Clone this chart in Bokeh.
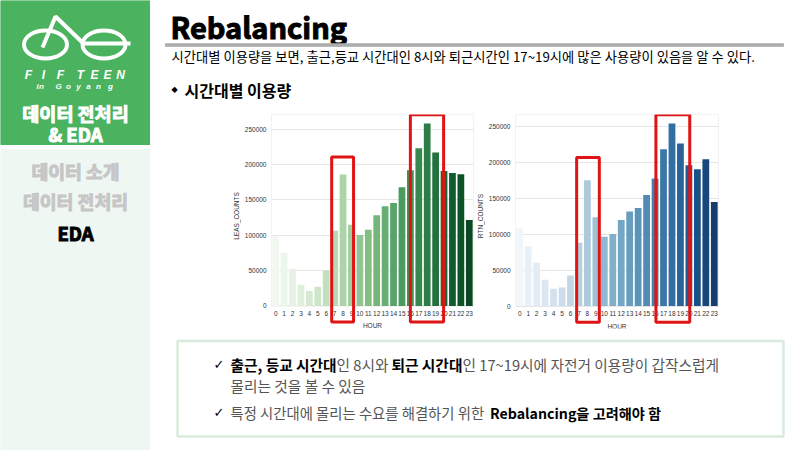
import colorsys
import math

from bokeh.core.properties import value
from bokeh.embed import file_html
from bokeh.layouts import column, row
from bokeh.models import BoxAnnotation, FixedTicker, Spacer
from bokeh.palettes import Blues256, Greens256
from bokeh.plotting import figure
from bokeh.resources import INLINE

HOURS = list(range(24))
LEAS_COUNTS = [99300, 75300, 52700, 30100, 21200, 27300, 50400, 106400, 186000, 114900, 100300, 107800,
               128500, 141200, 145500, 168000, 192000, 223000, 258000, 217000, 191000, 188300, 186400, 121500]
RTN_COUNTS = [108500, 83500, 60300, 36600, 24100, 26000, 42700, 88100, 175300, 123800, 96500, 100200,
              119700, 131700, 136400, 154500, 177600, 218500, 254000, 226300, 196200, 190600, 204500, 144800]
Y_TICKS = [0, 50000, 100000, 150000, 200000, 250000]

KR = "Noto Sans CJK KR"
GREEN = "#4bb25f"
RED = "#e01414"
GRID = "#e6e6e6"
TICK_TEXT = "#333333"
GREY_TEXT = "#555555"


def desat(c, s=0.75):
    # same muting seaborn does on bar colours
    r, g, b = [int(c[i:i + 2], 16) / 255 for i in (1, 3, 5)]
    h, l, sat = colorsys.rgb_to_hls(r, g, b)
    r, g, b = colorsys.hls_to_rgb(h, l, sat * s)
    return "#%02x%02x%02x" % (round(r * 255), round(g * 255), round(b * 255))


def seq_colors(pal, n):
    # bokeh palettes run dark to light, seaborn drops both ends of the map
    light_first = list(reversed(pal))
    return [desat(light_first[int(255 * (i + 1) / (n + 1))]) for i in range(n)]


def panel(x0, x1, y0, y1):
    # panel whose data coordinates are the pixels of the slide
    f = figure(width=x1 - x0, height=y1 - y0, x_range=(x0, x1), y_range=(y1, y0),
               output_backend="svg", toolbar_location=None, min_border=0)
    f.axis.visible = False
    f.grid.visible = False
    f.outline_line_color = None
    return f


def label(f, x, y, txt, size, color="#000000", style="normal", align="left", font=KR, outline=None):
    f.text([x], [y], text=[txt], text_font=value(font), text_font_size=size, text_color=color,
           text_font_style=style, text_align=align, text_baseline="middle", text_outline_color=outline)


def ylabel_panel(x0, x1, txt):
    # axis label would centre on the longer frame and annotations get cut at the frame,
    # so the y label sits in its own strip
    f = panel(x0, x1, 105, 330)
    f.text([x0 + 6], [211.7], text=[txt], angle=math.pi / 2, text_font=value("Liberation Sans"),
           text_font_size="6.5px", text_color=TICK_TEXT, text_align="center", text_baseline="middle")
    return f


def bars(values, palette, y_start, boxes, width, border_left, border_right):
    # the frame runs on below zero so the red boxes can reach under the hour labels,
    # the hour axis is pinned at zero and the visible frame is drawn by hand
    y_end = max(values) * 1.05
    f = figure(width=width, height=225, x_range=(-0.5, 23.5), y_range=(y_start, y_end),
               output_backend="svg", toolbar_location=None,
               min_border_left=border_left, min_border_right=border_right,
               min_border_top=9, min_border_bottom=2)
    f.vbar(x=HOURS, top=values, width=0.8, fill_color=seq_colors(palette, 24), line_color=None)
    f.xgrid.visible = False
    f.ygrid.grid_line_color = GRID
    f.outline_line_color = None
    f.add_layout(BoxAnnotation(left=-0.5, right=23.5, top=y_end, bottom=0, fill_alpha=0,
                               line_color=GRID, line_width=1, line_alpha=1, level="underlay"))
    f.xaxis.ticker = FixedTicker(ticks=HOURS)
    f.xaxis.fixed_location = 0
    f.xaxis.axis_label = "HOUR"
    f.yaxis.ticker = FixedTicker(ticks=Y_TICKS)
    f.yaxis.formatter.use_scientific = False
    for ax in (f.xaxis, f.yaxis):
        ax.axis_line_color = None
        ax.major_tick_line_color = None
        ax.minor_tick_line_color = None
        ax.major_tick_out = 0
        ax.major_tick_in = 0
        ax.major_label_text_font = "Liberation Sans"
        ax.major_label_text_font_size = "6.5px"
        ax.major_label_text_color = TICK_TEXT
        ax.major_label_standoff = 5
    f.xaxis.axis_label_text_font = "Liberation Sans"
    f.xaxis.axis_label_text_font_size = "6.5px"
    f.xaxis.axis_label_text_font_style = "normal"
    f.xaxis.axis_label_text_color = TICK_TEXT
    f.xaxis.axis_label_standoff = 3
    for left, right, top in boxes:
        f.add_layout(BoxAnnotation(left=left, right=right, top=top, bottom=-22600, fill_alpha=0,
                                   line_color=RED, line_width=3, line_alpha=1))
    return f


# left side bar
side = panel(0, 150, 0, 450)
side.quad(left=[0], right=[150], top=[0], bottom=[144], color=GREEN)
side.quad(left=[0], right=[150], top=[149], bottom=[450], color="#eff7f3")
side.ellipse(x=[45, 103.5], y=[44, 44], width=[43, 43], height=[28, 28], fill_color=None,
             line_color="white", line_width=4)
side.line([42, 55, 83, 130], [47, 16, 43, 43], line_color="white", line_width=4)
for ch, cx in zip("FIFTEEN", [28, 43, 60, 80, 94, 107, 120]):
    label(side, cx, 74, ch, "12px", "white", "bold italic", "center", "Liberation Sans")
for ch, cx in zip("inGoyang", [37, 41, 58, 68, 78, 88, 98, 110]):
    label(side, cx, 86, ch, "8px", "white", "bold italic", "center", "Liberation Sans")
label(side, 75, 112, "데이터 전처리", "18.5px", "white", "bold", "center", outline="white")
label(side, 75, 133, "& EDA", "18.5px", "white", "bold", "center", outline="white")
label(side, 75, 170, "데이터 소개", "18.3px", "#c6c6c6", "bold", "center", outline="#c6c6c6")
label(side, 75, 200, "데이터 전처리", "18.3px", "#c6c6c6", "bold", "center", outline="#c6c6c6")
label(side, 75, 232, "EDA", "18.5px", "#000000", "bold", "center", outline="#000000")

# title block
head = panel(150, 800, 0, 105)
label(head, 170, 25, "Rebalancing", "29px", style="bold", outline="#000000")
head.quad(left=[165], right=[783], top=[43.3], bottom=[45.8], color="#adadad")
label(head, 171, 56, "시간대별 이용량을 보면, 출근,등교 시간대인 8시와 퇴근시간인 17~19시에 많은 사용량이 있음을 알 수 있다.", "13.3px")
label(head, 171, 89, "◆", "8px", font="DejaVu Sans")
label(head, 184, 89, "시간대별 이용량", "16px", style="bold")

# charts
leas = bars(LEAS_COUNTS, Greens256, -31900, [(6.65, 9.25, 210800), (16.0, 19.95, 270600)], 233, 29, 1)
rtn = bars(RTN_COUNTS, Blues256, -31200, [(6.73, 9.41, 206800), (16.1, 20.1, 266300)], 239, 30, 6)

# note box
foot = panel(150, 800, 330, 450)
foot.quad(left=[177], right=[783], top=[340.5], bottom=[436], fill_color="white",
          line_color="#d8ebdc", line_width=2.5)
label(foot, 213, 364, "✓", "13px", font="DejaVu Sans")
label(foot, 230, 364, "출근, 등교 시간대", "14.7px", style="bold")
label(foot, 336, 364, "인 8시와", "14.7px", GREY_TEXT)
label(foot, 391, 364, "퇴근 시간대", "14.7px", style="bold")
label(foot, 462, 364, "인 17~19시에 자전거 이용량이 갑작스럽게", "14.7px", GREY_TEXT)
label(foot, 230, 385, "몰리는 것을 볼 수 있음", "14.7px", GREY_TEXT)
label(foot, 213, 412, "✓", "13px", font="DejaVu Sans")
label(foot, 230, 412, "특정 시간대에 몰리는 수요를 해결하기 위한", "14.35px", GREY_TEXT)
label(foot, 489.5, 412, "Rebalancing을 고려해야 함", "14.2px", style="bold")

charts = row(Spacer(width=80, height=225), ylabel_panel(230, 241, "LEAS_COUNTS"), leas,
             ylabel_panel(474, 485, "RTN_COUNTS"), rtn, Spacer(width=76, height=225))
p = row(side, column(head, charts, foot))

open("out.html", "w").write(file_html(p, INLINE))
